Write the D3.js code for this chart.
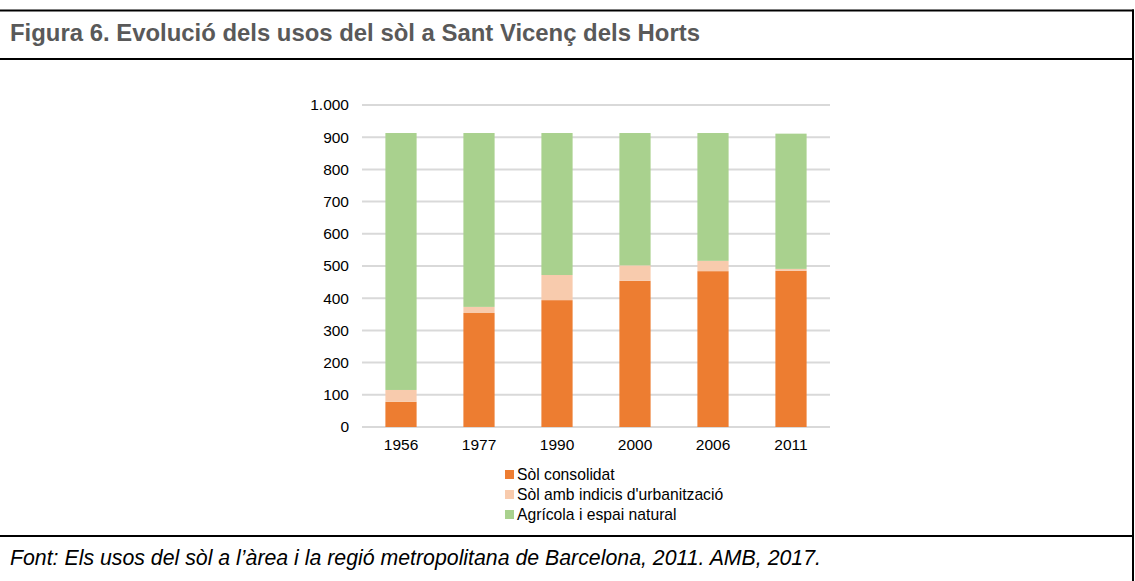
<!DOCTYPE html>
<html lang="ca">
<head>
<meta charset="UTF-8">
<title>Figura 6</title>
<style>
  body { margin: 0; background: #fff; }
  svg text { font-family: 'Liberation Sans', Arial, Helvetica, sans-serif; }
</style>
</head>
<body>
<div id="chart"></div>
<script src="https://d3js.org/d3.v7.min.js"></script>
<script>
// data (hectares)
var years = ["1956", "1977", "1990", "2000", "2006", "2011"];
var consolidat = [78, 354, 394, 454, 484, 485];
var indicis = [37, 19, 78, 48, 32, 6];
var agricola = [798, 540, 441, 411, 397, 420];
var seriesNames = ["Sòl consolidat", "Sòl amb indicis d'urbanització", "Agrícola i espai natural"];
var yTicks = [0, 100, 200, 300, 400, 500, 600, 700, 800, 900, 1000];

var colors = ["#ed7d31", "#f8cbad", "#a9d18e"];

var W = 1135, H = 581;
var svg = d3.select("#chart").append("svg")
  .attr("width", W).attr("height", H);

// frame lines
svg.append("line").attr("x1", 0).attr("x2", 1134).attr("y1", 10.5).attr("y2", 10.5)
  .attr("stroke", "#000").attr("stroke-width", 2);
svg.append("line").attr("x1", 0).attr("x2", 1134).attr("y1", 59).attr("y2", 59)
  .attr("stroke", "#000").attr("stroke-width", 2);
svg.append("line").attr("x1", 0).attr("x2", 1134).attr("y1", 536).attr("y2", 536)
  .attr("stroke", "#000").attr("stroke-width", 2);
svg.append("line").attr("x1", 1133).attr("x2", 1133).attr("y1", 9.5).attr("y2", H)
  .attr("stroke", "#000").attr("stroke-width", 2);

svg.append("text").attr("x", 10).attr("y", 41)
  .attr("font-size", 23.9).attr("font-weight", "bold").attr("fill", "#595959")
  .text("Figura 6. Evolució dels usos del sòl a Sant Vicenç dels Horts");

svg.append("text").attr("x", 10).attr("y", 565)
  .attr("font-size", 21.3).attr("font-style", "italic").attr("fill", "#000")
  .text("Font: Els usos del sòl a l’àrea i la regió metropolitana de Barcelona, 2011. AMB, 2017.");

// scales
var x = d3.scaleBand().domain(years).range([362, 830]).paddingInner(0.6).paddingOuter(0.3);
var y = d3.scaleLinear().domain([0, 1000]).range([427, 105]);

// gridlines
svg.append("g")
  .selectAll("line")
  .data(yTicks)
  .join("line")
  .attr("x1", 362).attr("x2", 830)
  .attr("y1", d => y(d)).attr("y2", d => y(d))
  .attr("stroke", "#d9d9d9").attr("stroke-width", 2);

// y axis labels
var yAxis = svg.append("g").attr("transform", "translate(349,0)")
  .call(d3.axisLeft(y).tickValues(yTicks).tickSize(0).tickPadding(0)
    .tickFormat(d => d3.format(",")(d).replace(",", ".")));
yAxis.select(".domain").remove();
yAxis.selectAll("text").attr("font-size", 15.5).attr("fill", "#000")
  .attr("font-family", "'Liberation Sans', Arial, sans-serif");

// x axis labels
var xAxis = svg.append("g").attr("transform", "translate(0,436)")
  .call(d3.axisBottom(x).tickSize(0).tickPadding(3));
xAxis.select(".domain").remove();
xAxis.selectAll("text").attr("font-size", 15.5).attr("fill", "#000")
  .attr("font-family", "'Liberation Sans', Arial, sans-serif");

// stacked bars
var table = years.map((yr, i) => ({ year: yr, s0: consolidat[i], s1: indicis[i], s2: agricola[i] }));
var stack = d3.stack().keys(["s0", "s1", "s2"])(table);

svg.append("g")
  .selectAll("g")
  .data(stack)
  .join("g")
  .attr("fill", (d, i) => colors[i])
  .selectAll("rect")
  .data(d => d)
  .join("rect")
  .attr("x", d => x(d.data.year))
  .attr("width", x.bandwidth())
  .attr("y", d => y(d[1]))
  .attr("height", d => y(d[0]) - y(d[1]));

// legend
var legend = svg.append("g").attr("transform", "translate(505,470)");
seriesNames.forEach(function(name, i) {
  var g = legend.append("g").attr("transform", "translate(0," + (i * 20) + ")");
  g.append("rect").attr("width", 9).attr("height", 9).attr("fill", colors[i]);
  g.append("text").attr("x", 12).attr("y", 10).attr("font-size", 15.7).attr("fill", "#000").text(name);
});
</script>
</body>
</html>
